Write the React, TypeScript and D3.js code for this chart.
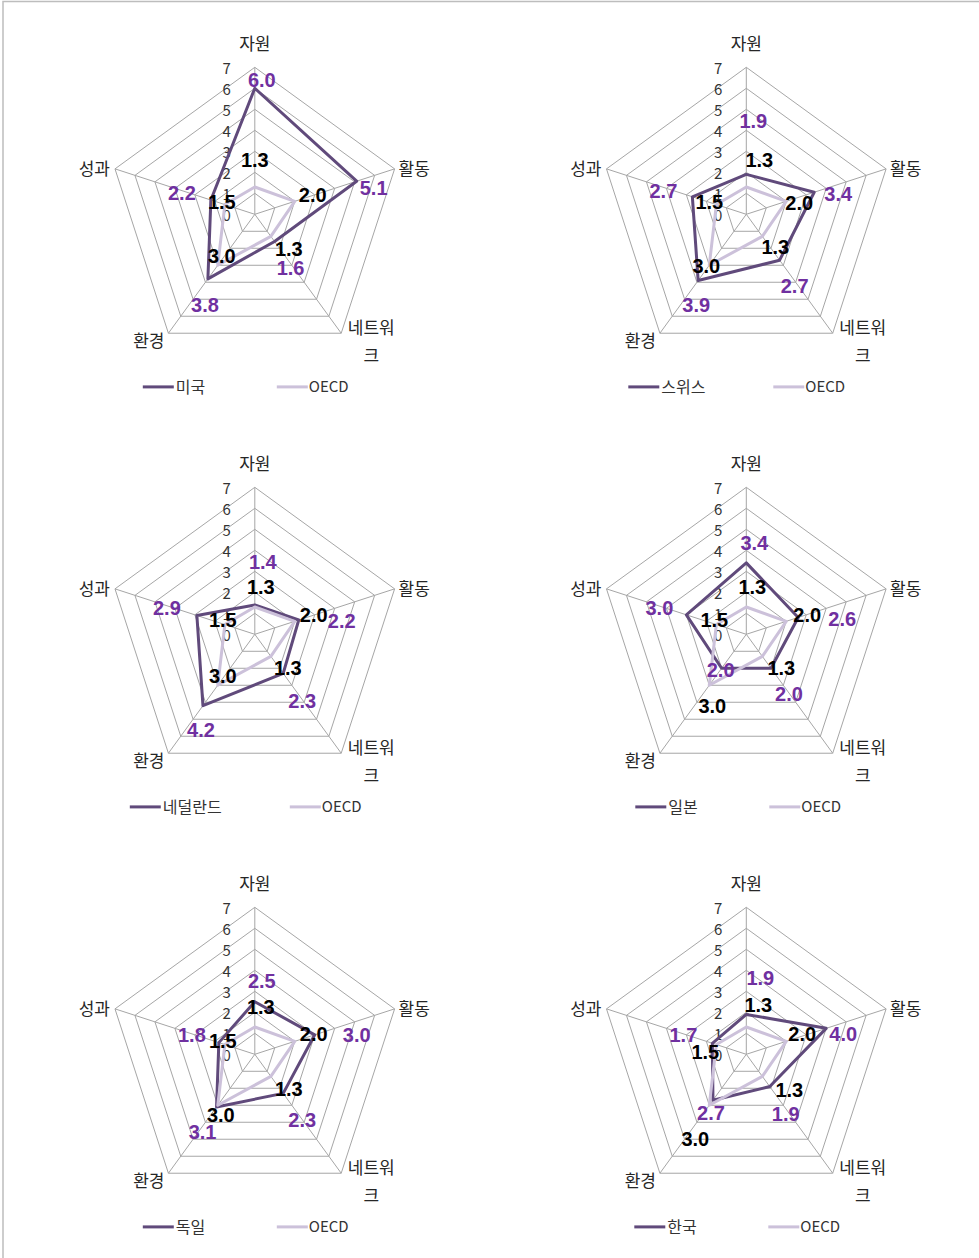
import React from 'react';
import * as d3 from 'd3';

// ---- data ----
const AXES = ['자원', '활동', '네트워크', '환경', '성과'];
const TICKS = [0, 1, 2, 3, 4, 5, 6, 7];
const OECD = [1.3, 2.0, 1.3, 3.0, 1.5];
const USA = [6.0, 5.1, 1.6, 3.8, 2.2];
const SWISS = [1.9, 3.4, 2.7, 3.9, 2.7];
const NETHERLANDS = [1.4, 2.2, 2.3, 4.2, 2.9];
const JAPAN = [3.4, 2.6, 2.0, 2.0, 3.0];
const GERMANY = [2.5, 3.0, 2.3, 3.1, 1.8];
const KOREA = [1.9, 4.0, 1.9, 2.7, 1.7];
const COUNTRIES = ['미국', '스위스', '네덜란드', '일본', '독일', '한국'];
const SERIES = [USA, SWISS, NETHERLANDS, JAPAN, GERMANY, KOREA];
const OECD_NAME = 'OECD';

// ---- layout ----
const WIDTH = 979;
const HEIGHT = 1258;
const COL_X = [254.8, 746.3];
const ROW_Y = [214.3, 634.3, 1054.3];
const RADIUS = 147;

// hand-placed data label nudges (px) relative to the point they describe
const COUNTRY_LABEL_NUDGE = [
  [[7, -8], [17, 7], [16, 27], [-3, 26], [-29, -7]],
  [[7, -53], [24, 2], [15, 26], [-2, 24], [-29, -6]],
  [[8, -43], [43, 1], [19, 28], [-2, 24], [-30, -7]],
  [[8, -20], [44, 2], [18, 26], [-1, 2], [-27, -7]],
  [[7, -21], [42, 0], [19, 27], [-14, 25], [-27, -8]],
  [[14, -36], [17, 6], [16, 27], [-2, 13], [-29, -8]],
];
const OECD_LABEL_NUDGE = [
  [[0, -27], [18, -6], [18, 13], [4, -9], [-3, -3]],
  [[13, -27], [13, 2], [13, 11], [-3, 1], [-7, -3]],
  [[6, -20], [19, -6], [17, 12], [5, -9], [-2, -5]],
  [[6, -20], [21, -6], [19, 12], [3, 21], [-2, -5]],
  [[6, -20], [19, -7], [18, 13], [3, 10], [-2, -4]],
  [[12, -22], [16, -7], [27, 14], [-14, 34], [-11, 7]],
];
// legend: start of first swatch and of OECD swatch, relative to chart centre
const LEGEND_X = [[-112, 22], [-118, 27], [-125, 35], [-111, 23], [-112, 22], [-112, 22]];

const COLOR_COUNTRY = '#604a7b';
const COLOR_OECD = '#ccc1da';
const COLOR_COUNTRY_LABEL = '#7030a0';
const COLOR_GRID = '#a6a6a6';
const FONT_KR = "'Noto Sans CJK KR', 'Noto Sans', sans-serif";
const FONT_NUM = "'Liberation Sans', Arial, sans-serif";

const r = d3.scaleLinear().domain([0, 7]).range([0, RADIUS]);
const angle = (i: number) => (i * 2 * Math.PI) / AXES.length;
const polar = (i: number, v: number): [number, number] => [
  r(v) * Math.sin(angle(i)),
  -r(v) * Math.cos(angle(i)),
];

const radial = d3
  .lineRadial<number>()
  .angle((_, i) => angle(i))
  .radius((d) => r(d))
  .curve(d3.curveLinearClosed);

function AxisLabel({ i }: { i: number }) {
  const [vx, vy] = polar(i, 7);
  const style = { fontFamily: FONT_KR, fontSize: 17, fill: '#262626' };
  if (i === 0)
    return <text x={vx} y={vy - 23} dy="0.35em" textAnchor="middle" style={style}>{AXES[i]}</text>;
  if (i === 1)
    return <text x={vx + 4} y={vy} dy="0.35em" textAnchor="start" style={style}>{AXES[i]}</text>;
  if (i === 2)
    return (
      <text x={vx + 30} y={vy - 5} textAnchor="middle" style={style}>
        <tspan x={vx + 30} dy="0.35em">{AXES[i].slice(0, 3)}</tspan>
        <tspan x={vx + 30} dy="28">{AXES[i].slice(3)}</tspan>
      </text>
    );
  if (i === 3)
    return <text x={vx - 4} y={vy + 8} dy="0.35em" textAnchor="end" style={style}>{AXES[i]}</text>;
  return <text x={vx - 5} y={vy} dy="0.35em" textAnchor="end" style={style}>{AXES[i]}</text>;
}

function Radar({ idx }: { idx: number }) {
  const cx = COL_X[idx % 2];
  const cy = ROW_Y[Math.floor(idx / 2)];
  const values = SERIES[idx];
  const [legA, legB] = LEGEND_X[idx];
  return (
    <g transform={`translate(${cx},${cy})`}>
      {TICKS.filter((t) => t > 0).map((t) => (
        <path key={t} d={radial(AXES.map(() => t)) || ''} fill="none" stroke={COLOR_GRID} strokeWidth={1} />
      ))}
      {AXES.map((_, i) => {
        const [x, y] = polar(i, 7);
        return <line key={i} x1={0} y1={0} x2={x} y2={y} stroke={COLOR_GRID} strokeWidth={1} />;
      })}
      {TICKS.map((t) => (
        <text key={t} x={-24} y={-r(t) + 1} dy="0.35em" textAnchor="end"
          style={{ fontFamily: FONT_KR, fontSize: 15, fill: '#333' }}>{t}</text>
      ))}
      {AXES.map((_, i) => <AxisLabel key={i} i={i} />)}
      <path d={radial(values) || ''} fill="none" stroke={COLOR_COUNTRY} strokeWidth={3} strokeLinejoin="round" />
      <path d={radial(OECD) || ''} fill="none" stroke={COLOR_OECD} strokeWidth={3} strokeLinejoin="round" />
      {values.map((v, i) => {
        const [x, y] = polar(i, v);
        const [nx, ny] = COUNTRY_LABEL_NUDGE[idx][i];
        return (
          <text key={'c' + i} x={x + nx} y={y + ny} dy="0.35em" textAnchor="middle"
            style={{ fontFamily: FONT_NUM, fontWeight: 'bold', fontSize: 20, fill: COLOR_COUNTRY_LABEL }}>
            {v.toFixed(1)}
          </text>
        );
      })}
      {OECD.map((v, i) => {
        const [x, y] = polar(i, v);
        const [nx, ny] = OECD_LABEL_NUDGE[idx][i];
        return (
          <text key={'o' + i} x={x + nx} y={y + ny} dy="0.35em" textAnchor="middle"
            style={{ fontFamily: FONT_NUM, fontWeight: 'bold', fontSize: 20, fill: '#000' }}>
            {v.toFixed(1)}
          </text>
        );
      })}
      <g transform={`translate(0,${RADIUS + 25.6})`}>
        <line x1={legA} x2={legA + 31} y1={0} y2={0} stroke={COLOR_COUNTRY} strokeWidth={3} />
        <text x={legA + 33} y={0} dy="0.35em" style={{ fontFamily: FONT_KR, fontSize: 16, fill: '#333' }}>
          {COUNTRIES[idx]}
        </text>
        <line x1={legB} x2={legB + 31} y1={0} y2={0} stroke={COLOR_OECD} strokeWidth={3} />
        <text x={legB + 32} y={0} dy="0.35em" style={{ fontFamily: FONT_KR, fontSize: 15, fill: '#333' }}>
          {OECD_NAME}
        </text>
      </g>
    </g>
  );
}

export default function App() {
  return (
    <svg width={WIDTH} height={HEIGHT} style={{ position: 'absolute', left: 0, top: 0, background: '#fff' }}>
      <rect x={0} y={0} width={WIDTH} height={HEIGHT} fill="#fff" />
      <rect x={3} y={1.5} width={WIDTH + 20} height={HEIGHT + 20} fill="none" stroke="#bdbdbd" strokeWidth={1.5} />
      {SERIES.map((_, idx) => <Radar key={idx} idx={idx} />)}
    </svg>
  );
}
